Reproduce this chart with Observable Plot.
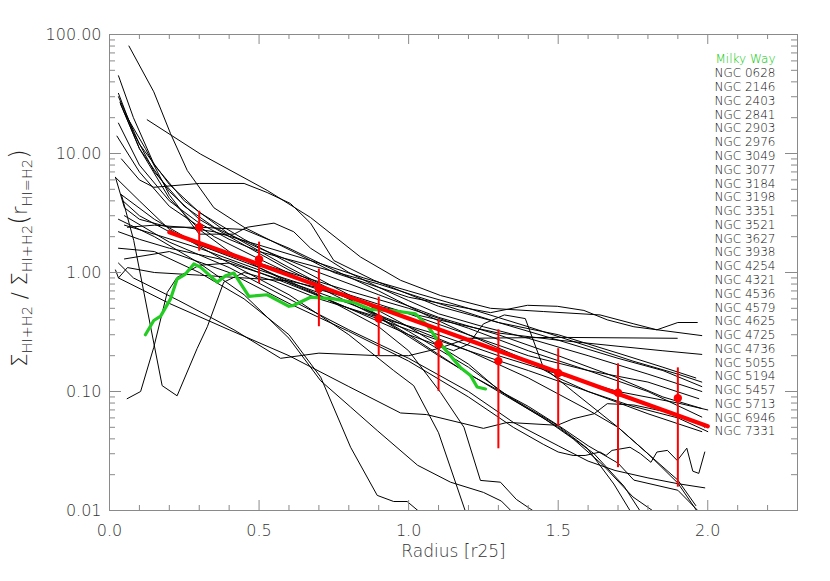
<!DOCTYPE html>
<html><head><meta charset="utf-8">
<script src="https://cdn.jsdelivr.net/npm/d3@7"></script>
<script src="https://cdn.jsdelivr.net/npm/@observablehq/plot@0.6"></script>
<style>body{margin:0;background:#fff}</style>
</head><body><div id="chart"></div>
<script>
const galaxyNames = ["NGC 0628","NGC 2146","NGC 2403","NGC 2841","NGC 2903","NGC 2976","NGC 3049","NGC 3077","NGC 3184","NGC 3198","NGC 3351","NGC 3521","NGC 3627","NGC 3938","NGC 4254","NGC 4321","NGC 4536","NGC 4579","NGC 4625","NGC 4725","NGC 4736","NGC 5055","NGC 5194","NGC 5457","NGC 5713","NGC 6946","NGC 7331"];

// radial profiles [radius (r25), ratio]
const galaxyProfiles = [
  [[0.126,19.2],[0.304,9.9],[0.527,4.9],[0.672,2.9],[0.839,1.35],[0.973,0.86],[1.107,0.64],[1.274,0.5],[1.45,0.47],[1.64,0.44],[1.753,0.37],[1.83,0.33],[1.9,0.38],[1.965,0.38]],
  [[0.065,80],[0.148,33],[0.204,14.7],[0.26,7.2],[0.349,3.5],[0.45,2.4],[0.55,1.8],[0.65,1.35],[0.75,1.0],[0.9,0.75],[1.0,0.62],[1.107,0.55],[1.274,0.46],[1.397,0.53],[1.497,0.52],[1.586,0.48],[1.664,0.40],[1.753,0.35],[1.98,0.295]],
  [[0.04,9],[0.1,6],[0.148,5.2],[0.30,5.6],[0.45,5.6],[0.527,4.7],[0.605,3.8],[0.672,2.6],[0.75,1.26],[0.884,0.86],[0.973,0.7],[1.1,0.52],[1.3,0.38],[1.5,0.3],[1.7,0.21],[1.85,0.16],[1.96,0.13]],
  [[0.03,1.2],[0.08,0.9],[0.232,0.58],[0.338,0.42],[0.416,0.33],[0.572,0.19],[0.7,0.21],[0.9,0.2],[1.0,0.2],[1.1,0.23],[1.2,0.28],[1.5,0.285],[1.898,0.28]],
  [[0.05,2.5],[0.15,2.1],[0.3,1.6],[0.5,1.05],[0.7,0.72],[0.9,0.52],[1.1,0.4],[1.3,0.31],[1.5,0.27],[1.7,0.24],[1.85,0.22],[1.98,0.205]],
  [[0.03,2.2],[0.1,1.9],[0.2,1.6],[0.4,1.25],[0.6,0.8],[0.8,0.5],[1.0,0.3],[1.15,0.22],[1.2,0.25],[1.25,0.37],[1.32,0.44],[1.39,0.41],[1.45,0.16],[1.55,0.1],[1.7,0.05],[1.8,0.03],[1.9,0.017],[1.965,0.0098]],
  [[0.05,1.3],[0.2,1.5],[0.4,1.0],[0.6,0.55],[0.8,0.32],[1.0,0.18],[1.2,0.09],[1.35,0.05],[1.45,0.036],[1.5,0.031],[1.55,0.029],[1.59,0.029],[1.64,0.031],[1.66,0.029],[1.68,0.032],[1.74,0.034],[1.775,0.030],[1.81,0.0254],[1.83,0.031],[1.865,0.032],[1.898,0.0263],[1.93,0.0334],[1.95,0.0214],[1.97,0.0205],[1.99,0.031]],
  [[0.05,3],[0.2,1.8],[0.4,1.1],[0.6,0.6],[0.8,0.33],[1.0,0.19],[1.2,0.1],[1.35,0.055],[1.5,0.035],[1.6,0.026],[1.69,0.0217],[1.8,0.0188],[1.9,0.0168],[1.99,0.0155]],
  [[0.03,0.9],[0.2,0.55],[0.4,0.33],[0.6,0.2],[0.8,0.11],[0.973,0.066],[1.06,0.064],[1.25,0.049],[1.33,0.055],[1.497,0.052],[1.55,0.059],[1.62,0.065],[1.664,0.079],[1.753,0.077],[1.865,0.067],[1.976,0.053],[1.99,0.05]],
  [[0.03,1.6],[0.15,1.5],[0.3,1.0],[0.45,0.6],[0.6,0.3],[0.706,0.132],[0.806,0.034],[0.895,0.0134],[0.95,0.0119],[0.995,0.0119],[1.035,0.0098]],
  [[0.03,2.8],[0.15,2.0],[0.3,1.2],[0.45,0.65],[0.6,0.28],[0.706,0.123],[0.806,0.074],[0.895,0.047],[1.03,0.024],[1.14,0.0173],[1.25,0.0142],[1.31,0.012],[1.345,0.0098]],
  [[0.04,4.5],[0.15,2.8],[0.3,1.7],[0.5,1.1],[0.7,0.65],[0.9,0.35],[1.0,0.22],[1.107,0.098],[1.185,0.05],[1.24,0.0179],[1.307,0.0173],[1.36,0.0124],[1.42,0.0098]],
  [[0.02,6.3],[0.1,4],[0.2,2.3],[0.4,1.2],[0.6,0.65],[0.8,0.3],[0.95,0.15],[1.017,0.112],[1.1,0.045],[1.19,0.0098]],
  [[0.03,30],[0.1,12],[0.2,5.5],[0.3,3.2],[0.45,1.9],[0.6,1.2],[0.8,0.65],[1.0,0.35],[1.2,0.17],[1.307,0.1],[1.497,0.052],[1.597,0.0334],[1.686,0.0167],[1.742,0.0098]],
  [[0.037,26],[0.1,11],[0.2,4.8],[0.3,2.8],[0.45,1.7],[0.6,1.05],[0.8,0.6],[1.0,0.32],[1.2,0.16],[1.35,0.085],[1.5,0.05],[1.62,0.03],[1.72,0.016],[1.775,0.0098]],
  [[0.03,45],[0.08,20],[0.15,8],[0.25,4],[0.4,2.1],[0.6,1.1],[0.8,0.6],[1.0,0.3],[1.2,0.14],[1.4,0.075],[1.5,0.052],[1.6,0.035],[1.7,0.025],[1.753,0.018],[1.9,0.0148],[1.97,0.0098]],
  [[0.025,14],[0.1,7],[0.2,3.6],[0.35,2.0],[0.5,1.3],[0.7,0.75],[0.9,0.42],[1.1,0.2],[1.3,0.1],[1.45,0.06],[1.55,0.04],[1.65,0.024],[1.75,0.013],[1.82,0.0098]],
  [[0.05,22],[0.12,11],[0.2,4.5],[0.3,2.1],[0.416,2.1],[0.46,2.4],[0.55,2.6],[0.616,2.2],[0.672,1.6],[0.8,1.0],[0.9,0.75],[1.0,0.58],[1.1,0.45],[1.25,0.35],[1.4,0.28],[1.6,0.2],[1.8,0.14],[1.98,0.1]],
  [[0.03,32],[0.08,15],[0.15,7],[0.25,3.6],[0.35,2.4],[0.5,1.6],[0.7,1.0],[0.9,0.65],[1.1,0.42],[1.3,0.3],[1.5,0.2],[1.7,0.13],[1.85,0.09],[1.98,0.072]],
  [[0.02,6.3],[0.05,3.5],[0.1,2.8],[0.2,2.4],[0.3,2.4],[0.45,2.3],[0.6,1.6],[0.75,1.05],[0.9,0.7],[1.05,0.45],[1.2,0.3],[1.4,0.2],[1.6,0.15],[1.8,0.12],[1.97,0.087]],
  [[0.045,4],[0.1,3],[0.2,2.2],[0.3,1.7],[0.4,1.4],[0.5,1.2],[0.6,1.0],[0.8,0.7],[1.0,0.5],[1.2,0.34],[1.4,0.22],[1.6,0.15],[1.8,0.1],[1.98,0.061]],
  [[0.02,1.05],[0.03,0.9],[0.06,1.1],[0.15,1.0],[0.3,0.95],[0.45,0.9],[0.6,0.85],[0.8,0.65],[1.0,0.45],[1.2,0.3],[1.4,0.18],[1.5,0.13],[1.6,0.1],[1.75,0.075],[1.9,0.06],[2.0,0.046]],
  [[0.04,4.5],[0.081,1.86],[0.176,0.112],[0.226,0.092],[0.293,0.23],[0.327,0.35],[0.382,0.83],[0.45,1.0],[0.55,0.85],[0.7,0.6],[0.9,0.42],[1.1,0.3],[1.3,0.2],[1.5,0.14],[1.7,0.1],[1.9,0.08],[2.0,0.07]],
  [[0.059,0.087],[0.104,0.1],[0.148,0.235],[0.193,0.68],[0.226,0.91],[0.3,1.15],[0.4,1.2],[0.5,1.0],[0.65,0.75],[0.8,0.55],[1.0,0.35],[1.2,0.22],[1.4,0.13],[1.6,0.07],[1.7,0.05],[1.8,0.03],[1.9,0.018],[1.96,0.011]],
  [[0.03,18],[0.1,8],[0.2,4],[0.3,2.6],[0.4,1.9],[0.5,1.5],[0.7,1.1],[0.9,0.8],[1.1,0.55],[1.3,0.38],[1.5,0.27],[1.7,0.19],[1.85,0.15],[1.98,0.11]],
  [[0.035,27],[0.1,11],[0.2,4.2],[0.3,2.3],[0.4,1.5],[0.5,1.1],[0.6,0.82],[0.8,0.5],[1.0,0.33],[1.2,0.22],[1.4,0.15],[1.6,0.1],[1.8,0.065],[1.98,0.046]],
  [[0.06,2.4],[0.15,2.5],[0.25,2.4],[0.35,2.2],[0.5,1.7],[0.7,1.2],[0.85,0.9],[1.0,0.7],[1.2,0.5],[1.4,0.35],[1.6,0.24],[1.75,0.18],[1.9,0.14],[1.98,0.12]]
];

const milkyWayR = [0.12,0.148,0.171,0.204,0.226,0.254,0.282,0.304,0.36,0.388,0.416,0.466,0.527,0.6,0.616,0.672,0.75,0.817,0.873,0.94,1.023,1.062,1.107,1.174,1.207,1.229,1.257];
const milkyWayRatio = [0.30,0.395,0.43,0.6,0.88,0.97,1.18,1.11,0.83,0.94,0.99,0.63,0.65,0.52,0.53,0.62,0.60,0.56,0.49,0.48,0.45,0.36,0.25,0.158,0.136,0.109,0.105];

const fitR = [0.2, 0.5, 1.0, 1.5, 2.0];
const fitRatio = [2.18, 1.17, 0.41, 0.145, 0.051];

const binR = [0.3,0.5,0.7,0.9,1.1,1.3,1.5,1.7,1.9];
const binMean = [2.40,1.29,0.73,0.41,0.25,0.18,0.143,0.0975,0.088];
const binHigh = [3.27,1.80,1.07,0.62,0.40,0.33,0.229,0.171,0.158];
const binLow = [1.51,0.81,0.35,0.20,0.10,0.033,0.051,0.0229,0.0157];

const xMajorTicks = [0, 0.5, 1.0, 1.5, 2.0];
const xMinorTicks = [0.1,0.2,0.3,0.4,0.6,0.7,0.8,0.9,1.1,1.2,1.3,1.4,1.6,1.7,1.8,1.9,2.1,2.2];
const yMajorTicks = [0.01, 0.1, 1, 10, 100];
const yMinorTicks = [0.02,0.03,0.04,0.05,0.06,0.07,0.08,0.09,0.2,0.3,0.4,0.5,0.6,0.7,0.8,0.9,2,3,4,5,6,7,8,9,20,30,40,50,60,70,80,90];

const rows = galaxyProfiles.flatMap((pts, i) => pts.map(([r, v]) => ({galaxy: galaxyNames[i], r, v})));
const mw = milkyWayR.map((r, i) => ({r, v: milkyWayRatio[i]}));
const fit = fitR.map((r, i) => ({r, v: fitRatio[i]}));
const bins = binR.map((r, i) => ({r, mean: binMean[i], lo: binLow[i], hi: binHigh[i]}));

const W = 830, H = 581, ML = 109, MR = 33, MT = 34, MB = 71;
const plotW = W - ML - MR, plotH = H - MT - MB;
const axisColor = "#8a8a8a";
const textColor = "#333";
const tickStyle = {stroke: axisColor, strokeWidth: 1};

const chart = Plot.plot({
  width: W, height: H,
  marginLeft: ML, marginRight: MR, marginTop: MT, marginBottom: MB,
  style: {fontFamily: "DejaVu Sans", fontSize: "16px", fontWeight: 300, color: textColor, background: "#fff"},
  x: {domain: [0, 2.3], axis: null},
  y: {type: "log", domain: [0.01, 100], axis: null},
  marks: [
    Plot.line(rows, {x: "r", y: "v", z: "galaxy", stroke: "black", strokeWidth: 1, clip: true}),
    Plot.line(mw, {x: "r", y: "v", stroke: "#22cc22", strokeWidth: 3.2, clip: true}),
    Plot.line(fit, {x: "r", y: "v", stroke: "#ff0000", strokeWidth: 4.2}),
    Plot.ruleX(bins, {x: "r", y1: "lo", y2: "hi", stroke: "#ff0000", strokeWidth: 2}),
    Plot.dot(bins, {x: "r", y: "mean", r: 4.2, fill: "#ff0000", stroke: "none"}),
    Plot.frame({stroke: axisColor}),
    // inward ticks on all four sides
    Plot.tickX(xMajorTicks, {x: d => d, insetTop: plotH - 10, ...tickStyle}),
    Plot.tickX(xMinorTicks, {x: d => d, insetTop: plotH - 5, ...tickStyle}),
    Plot.tickX(xMajorTicks, {x: d => d, insetBottom: plotH - 10, ...tickStyle}),
    Plot.tickX(xMinorTicks, {x: d => d, insetBottom: plotH - 5, ...tickStyle}),
    Plot.tickY(yMajorTicks, {y: d => d, insetRight: plotW - 12, ...tickStyle}),
    Plot.tickY(yMinorTicks, {y: d => d, insetRight: plotW - 6, ...tickStyle}),
    Plot.tickY(yMajorTicks, {y: d => d, insetLeft: plotW - 12, ...tickStyle}),
    Plot.tickY(yMinorTicks, {y: d => d, insetLeft: plotW - 6, ...tickStyle}),
    // tick labels
    Plot.axisX(xMajorTicks, {anchor: "bottom", tickSize: 0, tickPadding: 14, tickFormat: d => d.toFixed(1), fill: textColor, label: null, fontSize: 16}),
    Plot.axisY(yMajorTicks, {anchor: "left", tickSize: 0, tickPadding: 8, tickFormat: d => d.toFixed(2), fill: textColor, label: null, fontSize: 16}),
    // x title
    Plot.text(["Radius [r25]"], {frameAnchor: "bottom", dy: 46, fontSize: 17, fill: textColor}),
    // legend
    Plot.text(["Milky Way"], {frameAnchor: "top-right", dx: -22, dy: 25, lineAnchor: "middle", textAnchor: "end", fill: "#00c800", fontSize: 12}),
    Plot.text([galaxyNames.join("\n")], {frameAnchor: "top-right", dx: -22, dy: 217.5, lineAnchor: "middle", textAnchor: "end", lineHeight: 1.148, fill: "#111", fontSize: 12})
  ]
});

document.getElementById("chart").appendChild(chart);

// y-axis title with subscripts
const svg = d3.select(chart);
const t = svg.append("text")
  .attr("transform", "translate(27,258) rotate(-90)")
  .attr("text-anchor", "middle")
  .attr("font-family", "DejaVu Sans")
  .attr("font-weight", 300)
  .attr("font-size", 21)
  .attr("fill", "#222");
t.append("tspan").text("Σ");
t.append("tspan").attr("font-size", 14.5).attr("dy", 5).text("HI+H2");
t.append("tspan").attr("dy", -5).text(" / Σ");
t.append("tspan").attr("font-size", 14.5).attr("dy", 5).text("HI+H2");
t.append("tspan").attr("dy", -5).attr("font-size", 25).text("(");
t.append("tspan").text("r");
t.append("tspan").attr("font-size", 14.5).attr("dy", 5).text("HI=H2");
t.append("tspan").attr("dy", -5).attr("font-size", 25).text(")");
</script>
</body></html>
